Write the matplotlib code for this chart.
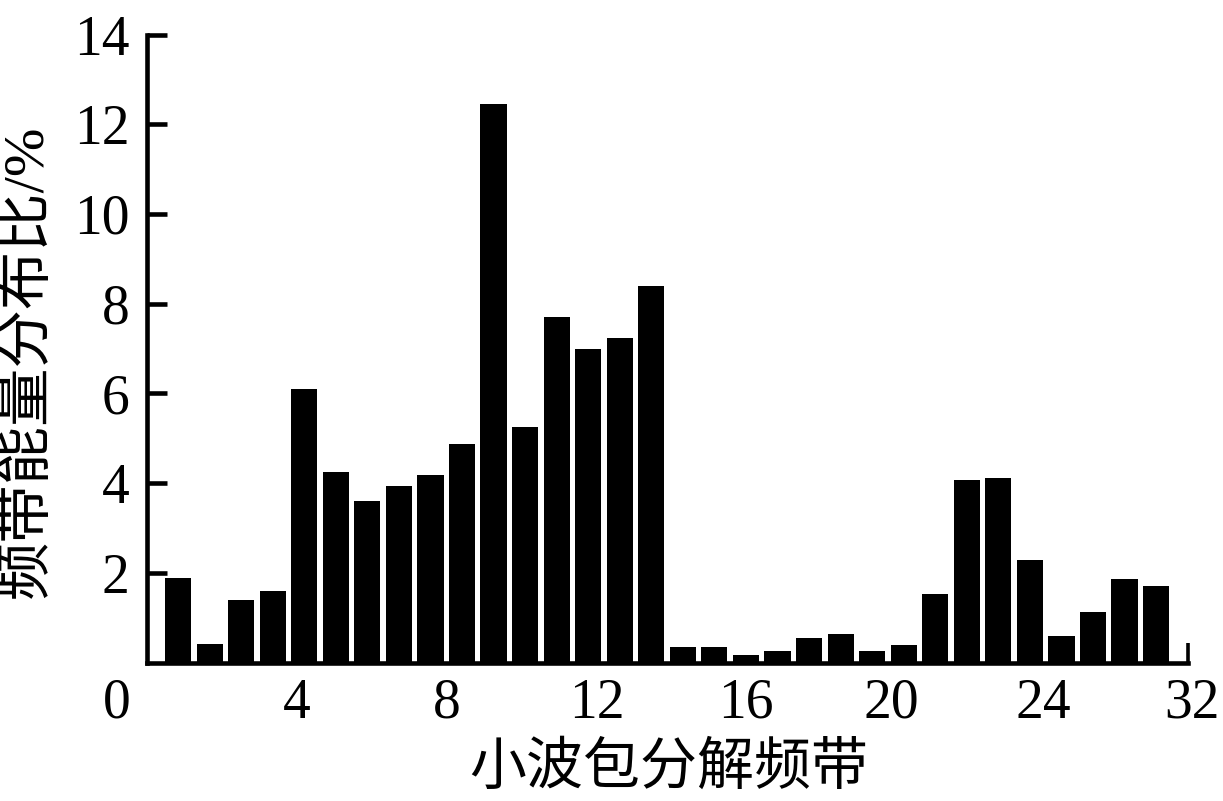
import matplotlib
matplotlib.use("Agg")
import matplotlib.pyplot as plt
import numpy as np

# ---- data ----
bands = list(range(1, 33))
energy_pct = [1.88, 0.41, 1.39, 1.59, 6.09, 4.24, 3.61, 3.94, 4.17, 4.88,
              12.45, 5.24, 7.70, 6.98, 7.23, 8.40, 0.35, 0.35, 0.17, 0.26,
              0.55, 0.64, 0.26, 0.40, 1.53, 4.08, 4.12, 2.28, 0.60, 1.12,
              1.87, 1.71]
xtick_labels = ['0', '4', '8', '12', '16', '20', '24', '32']
ytick_values = [2, 4, 6, 8, 10, 12, 14]
xlabel_text = '小波包分解频带'
ylabel_text = '频带能量分布比/%'

# ---- layout ----
xtick_pos = [-0.95, 4.75, 9.51, 14.29, 18.99, 23.61, 28.43, 33.15]

W, H = 1223, 801
fig = plt.figure(figsize=(W / 100, H / 100), dpi=100)

x0_px, unit_px = 146.5, 31.55
xmin, xmax = -1.3, 33.5
y0_px, y14_px = 662.5, 34.6
left = (x0_px + xmin * unit_px) / W
right = (x0_px + xmax * unit_px) / W
bottom = 1 - y0_px / H
top = 1 - y14_px / H
ax = fig.add_axes([left, bottom, right - left, top - bottom])

ax.bar(bands, energy_pct, width=0.83, color='black', edgecolor='none', zorder=2)

ax.set_xlim(xmin, xmax)
ax.set_ylim(0, 14)

lw = 3.3
for s in ['top', 'right']:
    ax.spines[s].set_visible(False)
ax.spines['left'].set_position(('data', 0))
ax.spines['left'].set_bounds(0, 14)
ax.spines['bottom'].set_bounds(0, 33)
for s in ['left', 'bottom']:
    ax.spines[s].set_linewidth(lw)
    ax.spines[s].set_capstyle('projecting')
    ax.spines[s].set_zorder(3)

serif = 'Liberation Serif'
ax.set_xticks(xtick_pos)
ax.set_xticklabels(xtick_labels, fontfamily=serif, fontsize=40)
ax.set_xticks([33], minor=True)
ax.tick_params(axis='x', which='major', length=0, pad=11)
ax.tick_params(axis='x', which='minor', direction='in', length=14.4, width=2.6)

ax.set_yticks(ytick_values)
ax.set_yticklabels([str(v) for v in ytick_values], fontfamily=serif, fontsize=40)
ax.tick_params(axis='y', which='major', direction='in', length=14.4, width=lw, pad=12)

fig.text(669 / W, 1 - 768 / H, xlabel_text, ha='center', va='center',
         fontsize=41, family=['Noto Sans CJK SC', 'DejaVu Sans'])
fig.text(27 / W, 1 - 361 / H, ylabel_text, ha='center', va='center', rotation=90,
         fontsize=42, family=[serif, 'Noto Sans CJK SC'])

fig.savefig('out.png', dpi=100)
